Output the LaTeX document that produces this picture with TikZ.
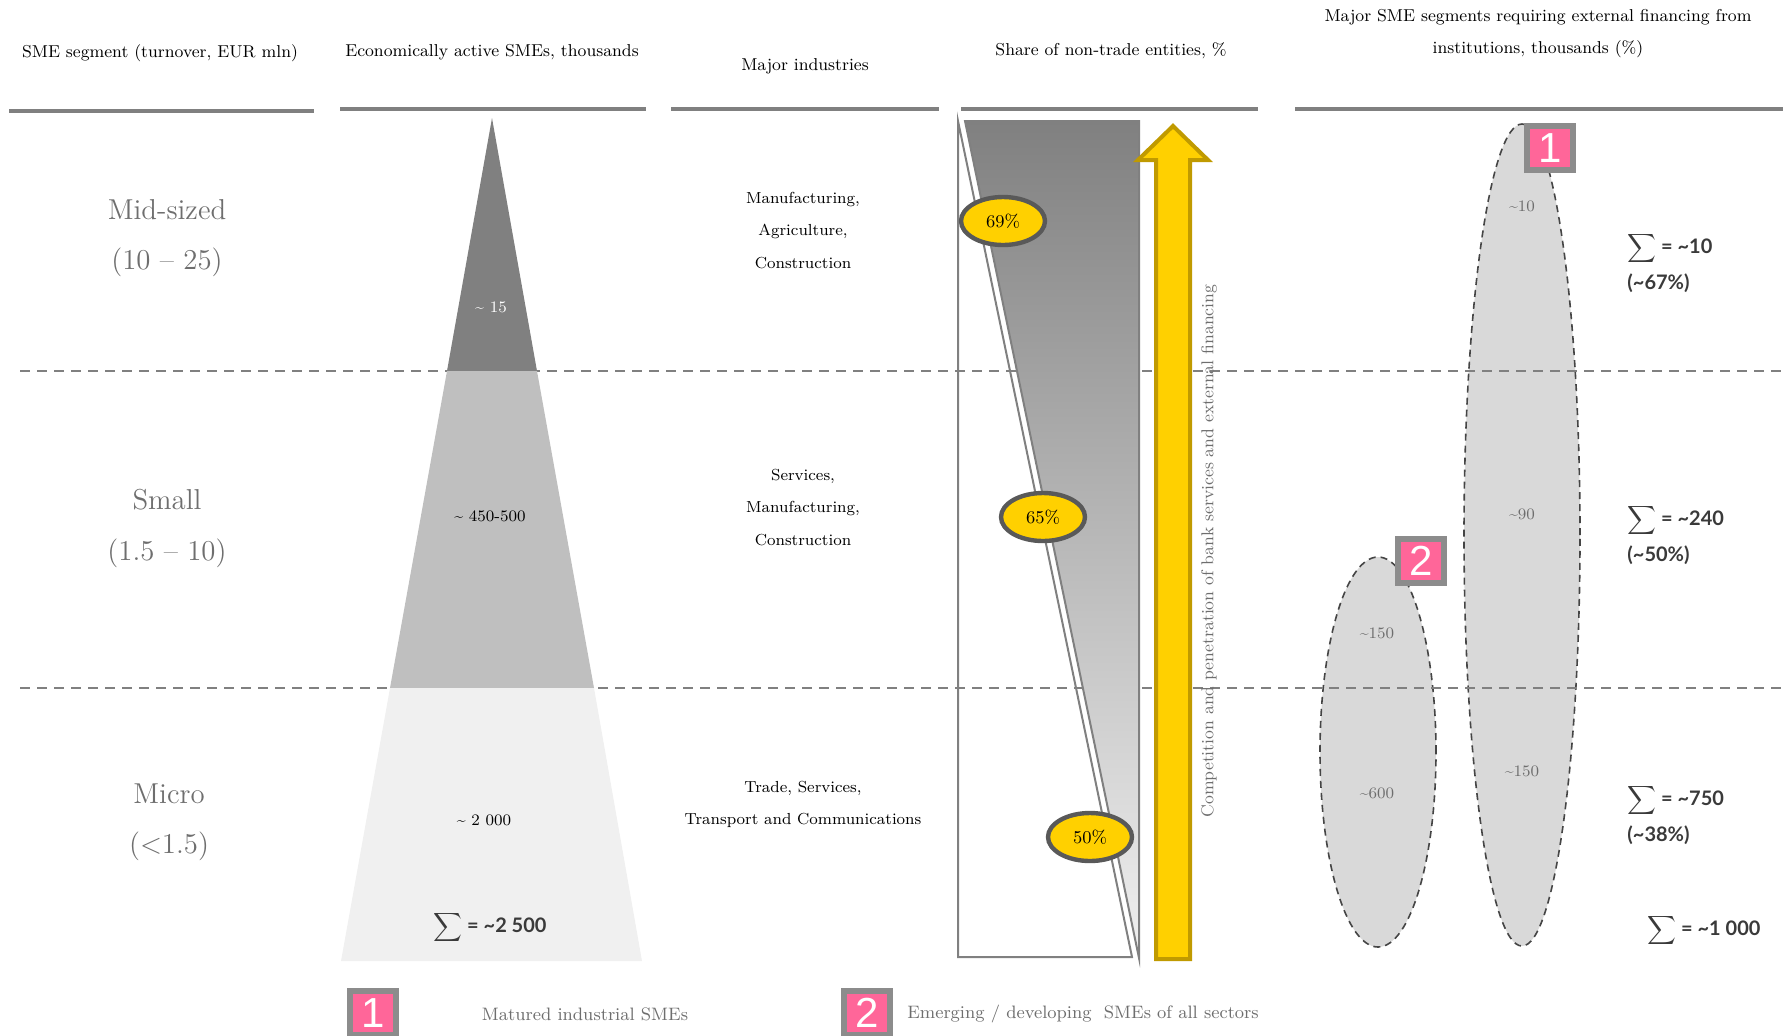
\documentclass[tikz,border=0pt]{standalone}
\usepackage{fontspec}
\newfontfamily\sumfont{Lato}
\newfontfamily\badgefont{Liberation Sans}
\usetikzlibrary{shapes.geometric,positioning}
\definecolor{rulegray}{HTML}{808080}
\definecolor{topgray}{HTML}{808080}
\definecolor{midgray}{HTML}{BFBFBF}
\definecolor{lowgray}{HTML}{F0F0F0}
\definecolor{seggray}{HTML}{6E6E6E}
\definecolor{ringgray}{HTML}{595959}
\definecolor{groupfill}{HTML}{D9D9D9}
\definecolor{groupline}{HTML}{454545}
\definecolor{gold}{HTML}{FFD000}
\definecolor{golddark}{HTML}{C09A00}
\definecolor{pinkish}{HTML}{FF6699}
\definecolor{badgegray}{HTML}{8C8C8C}
\definecolor{sumgray}{HTML}{3A3A3A}
\newcommand{\tild}{\textasciitilde}

\begin{document}
\begin{tikzpicture}[x=0.5pt,y=-0.5pt]
\tikzstyle{every node}+=[inner sep=0pt]
\tikzstyle{head}=[font=\fontsize{8.6}{10}\selectfont,align=center]
\tikzstyle{rule}=[rulegray,line width=2.3pt]
\tikzstyle{gridline}=[rulegray,line width=0.9pt,dash pattern=on 5pt off 3.5pt]
\tikzstyle{seg}=[font=\Large,text=seggray]
\tikzstyle{ind}=[font=\footnotesize]
\tikzstyle{pct}=[ellipse,draw=ringgray,line width=2.2pt,fill=gold,minimum width=42pt,minimum height=24pt,font=\small]
\tikzstyle{group}=[ellipse,draw=groupline,line width=0.8pt,dash pattern=on 3.5pt off 2.5pt,fill=groupfill]
\tikzstyle{grouplabel}=[font=\footnotesize,text=seggray]
\tikzstyle{badge}=[draw=badgegray,line width=2.6pt,fill=pinkish,text=white,minimum width=23pt,minimum height=22pt,font=\badgefont\fontsize{21}{21}\selectfont]
\tikzstyle{sum}=[font=\sumfont\bfseries\normalsize,text=sumgray,anchor=west]
\useasboundingbox (0,0) rectangle (1783,1035);

\node[group,minimum width=58pt,minimum height=411pt] (big) at (1522,535) {};
\node[group,minimum width=58pt,minimum height=195pt] (small) at (1378,752) {};

\draw[gridline] (20,371) -- (1783,371);
\draw[gridline] (20,688) -- (1783,688);

\node[head] (h1) at (160,53) {SME segment (turnover, EUR mln)};
\node[head] (h2) at (492,52) {Economically active SMEs, thousands};
\node[head] (h3) at (805,66) {Major industries};
\node[head] (h4) at (1111,51) {Share of non-trade entities, \%};
\node[head] (h5) at (1538,17) {Major SME segments requiring external financing from};
\node[head] (h5b) at (1538,49) {institutions, thousands (\%)};
\draw[rule] (9,111) -- (314,111);
\draw[rule] (340,109) -- (646,109);
\draw[rule] (671,109) -- (939,109);
\draw[rule] (961,109) -- (1258,109);
\draw[rule] (1295,109) -- (1783,109);

\node[seg] (mid) at (167,210) {Mid-sized};
\node[seg] (midr) at (167,262) {(10 -- 25)};
\node[seg] (sml) at (167,500) {Small};
\node[seg] (smlr) at (167,553) {(1.5 -- 10)};
\node[seg] (mic) at (169,794) {Micro};
\node[seg] (micr) at (169,846) {(<1.5)};

\fill[topgray] (492,118) -- (537,371) -- (447,371) -- cycle;
\fill[midgray] (447,371) -- (537,371) -- (594,688) -- (390,688) -- cycle;
\fill[lowgray] (390,688) -- (594,688) -- (642,961) -- (341,961) -- cycle;
\node[ind,text=white] (n15) at (491,307) {\tild{} 15};
\node[ind] (n450) at (490,516) {\tild{} 450-500};
\node[ind] (n2000) at (484,820) {\tild{} 2 000};
\node[sum,anchor=center] (s2500) at (490,927) {$\displaystyle\sum$ = \tild2 500};

\node[ind] (i1a) at (803,199) {Manufacturing,};
\node[ind] (i1b) at (803,231) {Agriculture,};
\node[ind] (i1c) at (803,263) {Construction};
\node[ind] (i2a) at (803,476) {Services,};
\node[ind] (i2b) at (803,508) {Manufacturing,};
\node[ind] (i2c) at (803,540) {Construction};
\node[ind] (i3a) at (803,788) {Trade, Services,};
\node[ind] (i3b) at (803,820) {Transport and Communications};

\draw[rulegray,line width=1pt] (958,121) -- (958,957) -- (1132,957) -- cycle;
\shadedraw[top color=topgray,bottom color=lowgray,draw=rulegray,line width=1pt] (965,121) -- (1139,121) -- (1139,958) -- cycle;
\node[pct] (p69) at (1003,221) {69\%};
\node[pct] (p65) at (1043,517) {65\%};
\node[pct] (p50) at (1090,837) {50\%};

\filldraw[fill=gold,draw=golddark,line width=2pt] (1156,959) -- (1156,160) -- (1138,160) -- (1173,126) -- (1208,160) -- (1190,160) -- (1190,959) -- cycle;
\node[rotate=90,font=\fontsize{8.6}{10}\selectfont,text=seggray] (comp) at (1209,551) {Competition and penetration of bank services and external financing};

\node[grouplabel] (g10) at (1522,206) {\tild10};
\node[grouplabel] (g90) at (1522,514) {\tild90};
\node[grouplabel] (g150b) at (1522,771) {\tild150};
\node[grouplabel] (g150a) at (1377,633) {\tild150};
\node[grouplabel] (g600) at (1377,793) {\tild600};
\node[badge] (b1) at (1550,148) {1};
\node[badge] (b2) at (1421,561) {2};

\node[sum] (s10) at (1627,248) {$\displaystyle\sum$ = \tild10};
\node[sum] (s10p) at (1627,283) {(\tild67\%)};
\node[sum] (s240) at (1627,520) {$\displaystyle\sum$ = \tild240};
\node[sum] (s240p) at (1627,555) {(\tild50\%)};
\node[sum] (s750) at (1627,800) {$\displaystyle\sum$ = \tild750};
\node[sum] (s750p) at (1627,835) {(\tild38\%)};
\node[sum] (s1000) at (1647,930) {$\displaystyle\sum$ = \tild1 000};

\node[badge] (l1) at (373,1013) {1};
\node[font=\small,text=seggray] (l1t) at (585,1014) {Matured industrial SMEs};
\node[badge] (l2) at (867,1013) {2};
\node[font=\small,text=seggray] (l2t) at (1083,1014) {Emerging / developing\ \ SMEs of all sectors};
\end{tikzpicture}
\end{document}
